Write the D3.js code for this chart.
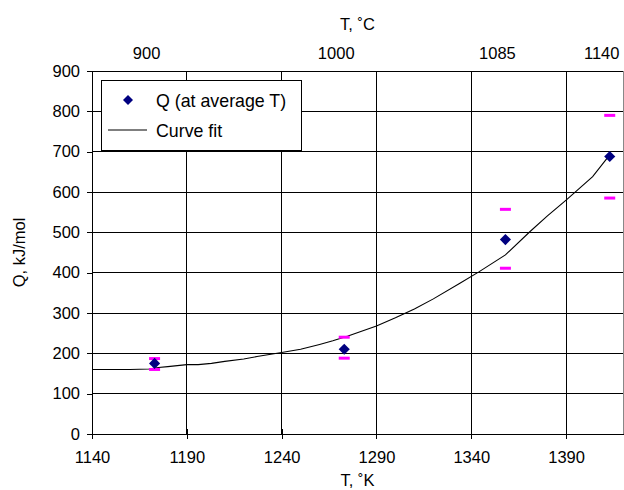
<!DOCTYPE html>
<html>
<head>
<meta charset="utf-8">
<script src="https://cdn.jsdelivr.net/npm/d3@7"></script>
<style>
  html, body { margin: 0; padding: 0; background: #fff; }
  svg { display: block; font-family: "Liberation Sans", Arial, sans-serif; }
</style>
</head>
<body>
<div id="chart"></div>
<script>
// ---- data ----
const pointT = [1173, 1273, 1358, 1413];          // T, K (average)
const pointQ = [175, 210, 482, 688];              // Q, kJ/mol
const errHigh = [187, 240, 557, 790];
const errLow = [160, 188, 411, 585];
const fitT = [1140, 1150, 1160, 1170, 1175, 1180, 1190, 1196, 1203, 1210, 1220, 1227, 1240, 1250, 1260, 1267, 1275, 1290, 1300, 1310, 1320, 1334, 1344, 1358, 1371, 1380, 1390, 1404, 1413];
const fitQ = [160, 160, 160, 161, 165, 167, 172, 172, 175, 180, 186, 192, 202, 210, 222, 231, 243, 268, 288, 310, 335, 374, 402, 444, 502, 540, 580, 638, 692];
const xTicks = [1140, 1190, 1240, 1290, 1340, 1390];
const yTicks = [0, 100, 200, 300, 400, 500, 600, 700, 800, 900];
const topTickC = [900, 1000, 1085, 1140];
const seriesNames = ["Q (at average T)", "Curve fit"];

// ---- layout ----
const W = 624, H = 490;
const L = 92, R = 623, T = 71, B = 434;
const FS = 16.5, LFS = 17.8;

const svg = d3.select("#chart").append("svg").attr("width", W).attr("height", H);

const x = d3.scaleLinear().domain([1140, 1420]).range([L, R]);
const y = d3.scaleLinear().domain([0, 900]).range([B, T]);

// plot background
svg.append("rect").attr("x", L).attr("y", T).attr("width", R - L).attr("height", B - T).attr("fill", "#fff");

// grid
const grid = svg.append("g").attr("shape-rendering", "crispEdges");
grid.selectAll("line.h").data(yTicks.filter(d => d > 0)).join("line")
  .attr("x1", L).attr("x2", R).attr("y1", d => y(d)).attr("y2", d => y(d))
  .attr("stroke", "#000").attr("stroke-width", 1);
grid.selectAll("line.v").data(xTicks.filter(d => d > 1140)).join("line")
  .attr("x1", d => x(d)).attr("x2", d => x(d)).attr("y1", T).attr("y2", B)
  .attr("stroke", "#000").attr("stroke-width", 1);
// right border
grid.append("line").attr("x1", R).attr("x2", R).attr("y1", T).attr("y2", B)
  .attr("stroke", "#888").attr("stroke-width", 1);

// axes
const xAxis = d3.axisBottom(x).tickValues(xTicks).tickFormat(d3.format("d"))
  .tickSizeInner(5).tickSizeOuter(0).tickPadding(12);
const gx = svg.append("g").attr("transform", `translate(0,${B})`).call(xAxis);
gx.selectAll("text").attr("font-size", FS).attr("fill", "#000").attr("font-family", "Liberation Sans, Arial, sans-serif");
gx.selectAll("line").attr("stroke", "#000").attr("y1", -5).attr("shape-rendering", "crispEdges");
gx.select(".domain").attr("stroke", "#000").attr("shape-rendering", "crispEdges");

const yAxis = d3.axisLeft(y).tickValues(yTicks).tickFormat(d3.format("d"))
  .tickSizeInner(5).tickSizeOuter(0).tickPadding(7);
const gy = svg.append("g").attr("transform", `translate(${L},0)`).call(yAxis);
gy.selectAll("text").attr("font-size", FS).attr("fill", "#000").attr("font-family", "Liberation Sans, Arial, sans-serif");
gy.selectAll("line").attr("stroke", "#000").attr("shape-rendering", "crispEdges");
gy.select(".domain").attr("stroke", "#000").attr("shape-rendering", "crispEdges");

// top border
svg.append("line").attr("x1", L).attr("x2", R).attr("y1", T).attr("y2", T)
  .attr("stroke", "#000").attr("shape-rendering", "crispEdges");

// top (Celsius) labels
svg.append("g").selectAll("text").data(topTickC).join("text")
  .attr("x", d => x(d + 273) - 8).attr("y", 58.5)
  .attr("text-anchor", "middle").attr("font-size", FS).attr("fill", "#000")
  .text(d => d);

// axis titles
svg.append("text").attr("x", (L + R) / 2).attr("y", 29.5).attr("text-anchor", "middle")
  .attr("font-size", FS).attr("fill", "#000").text("T, ˚C");
svg.append("text").attr("x", (L + R) / 2).attr("y", 485.5).attr("text-anchor", "middle")
  .attr("font-size", FS).attr("fill", "#000").text("T, ˚K");
svg.append("text").attr("transform", `translate(25,${(T + B) / 2}) rotate(-90)`)
  .attr("text-anchor", "middle").attr("font-size", FS).attr("fill", "#000").text("Q, kJ/mol");

// curve fit
const fitData = fitT.map((t, i) => [t, fitQ[i]]);
svg.append("path").datum(fitData)
  .attr("d", d3.line().x(d => x(d[0])).y(d => y(d[1])))
  .attr("fill", "none").attr("stroke", "#000").attr("stroke-width", 1.1);

// error dashes
const errData = [];
pointT.forEach((t, i) => { errData.push([t, errHigh[i]]); errData.push([t, errLow[i]]); });
svg.append("g").selectAll("line").data(errData).join("line")
  .attr("x1", d => x(d[0]) - 5.5).attr("x2", d => x(d[0]) + 5.5)
  .attr("y1", d => y(d[1])).attr("y2", d => y(d[1]))
  .attr("stroke", "#FF00FF").attr("stroke-width", 3);

// points
const diamond = d3.symbol().type(d3.symbolSquare).size(62);
svg.append("g").selectAll("path").data(pointT.map((t, i) => [t, pointQ[i]])).join("path")
  .attr("d", diamond)
  .attr("transform", d => `translate(${x(d[0])},${y(d[1])}) rotate(45)`)
  .attr("fill", "#000080");

// legend
const lg = svg.append("g");
lg.append("rect").attr("x", 101.5).attr("y", 80.5).attr("width", 200).attr("height", 70)
  .attr("fill", "#fff").attr("stroke", "#000").attr("stroke-width", 1).attr("shape-rendering", "crispEdges");
lg.append("path").attr("d", d3.symbol().type(d3.symbolSquare).size(50))
  .attr("transform", "translate(128,100) rotate(45)").attr("fill", "#000080");
lg.append("line").attr("x1", 108).attr("x2", 147).attr("y1", 130).attr("y2", 130)
  .attr("stroke", "#000").attr("stroke-width", 1.1);
lg.selectAll("text").data(seriesNames).join("text")
  .attr("x", 156).attr("y", (d, i) => 106.5 + i * 30)
  .attr("font-size", LFS).attr("fill", "#000").text(d => d);
</script>
</body>
</html>
